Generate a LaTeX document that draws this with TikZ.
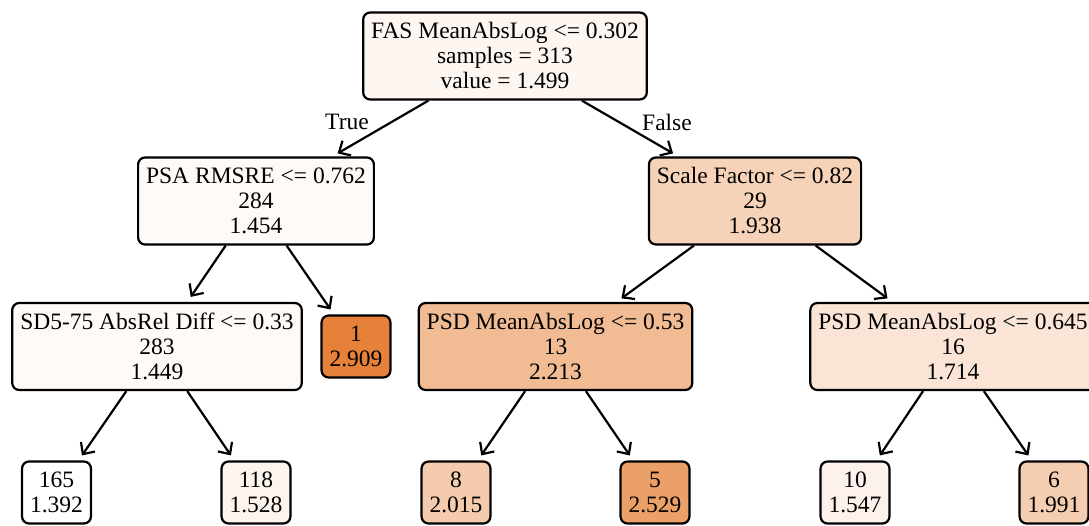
\documentclass[tikz,border=0pt]{standalone}
\usepackage{fontspec}
\setmainfont{Liberation Serif}
\usetikzlibrary{arrows.meta}
\definecolor{cA}{RGB}{253,246,241}
\definecolor{cB}{RGB}{254,250,247}
\definecolor{cC}{RGB}{246,210,184}
\definecolor{cD}{RGB}{254,250,248}
\definecolor{cE}{RGB}{229,129,57}
\definecolor{cF}{RGB}{241,187,148}
\definecolor{cG}{RGB}{249,228,213}
\definecolor{cH}{RGB}{255,255,255}
\definecolor{cI}{RGB}{253,244,237}
\definecolor{cJ}{RGB}{244,203,173}
\definecolor{cK}{RGB}{235,160,104}
\definecolor{cL}{RGB}{252,242,235}
\definecolor{cM}{RGB}{245,205,177}
\begin{document}
\begin{tikzpicture}[x=1pt,y=-1pt,
  tbox/.style={draw=black, line width=2.2pt, rounded corners=7pt, align=center,
    inner xsep=8pt, inner ysep=0pt, font=\fontsize{23.5}{25}\selectfont},
  bigbox/.style={tbox, minimum height=87pt},
  leafbox/.style={tbox, minimum height=62pt},
  conn/.style={line width=2.2pt, -{Straight Barb[length=9pt,width=17pt]}, shorten >=6pt},
  elabel/.style={font=\fontsize{23.5}{25}\selectfont, inner sep=0pt}]
\useasboundingbox (0,0) rectangle (1089,525);
\clip (0,0) rectangle (1089,525);

\node[bigbox, fill=cA] (root) at (505,56) {FAS MeanAbsLog <= 0.302\\samples = 313\\value = 1.499};
\node[bigbox, fill=cB] (psa) at (256,201) {PSA RMSRE <= 0.762\\284\\1.454};
\node[bigbox, fill=cC] (sf) at (755,201) {Scale Factor <= 0.82\\29\\1.938};
\node[bigbox, fill=cD] (sd) at (157,346.5) {SD5-75 AbsRel Diff <= 0.33\\283\\1.449};
\node[leafbox, fill=cE] (l1) at (356,346.5) {1\\2.909};
\node[bigbox, fill=cF] (psd13) at (555.5,346.5) {PSD MeanAbsLog <= 0.53\\13\\2.213};
\node[bigbox, fill=cG] (psd16) at (953,346.5) {PSD MeanAbsLog <= 0.645\\16\\1.714};
\node[leafbox, fill=cH] (l165) at (56.5,492.5) {165\\1.392};
\node[leafbox, fill=cI] (l118) at (256,492.5) {118\\1.528};
\node[leafbox, fill=cJ] (l8) at (456,492.5) {8\\2.015};
\node[leafbox, fill=cK] (l5) at (655,492.5) {5\\2.529};
\node[leafbox, fill=cL] (l10) at (855,492.5) {10\\1.547};
\node[leafbox, fill=cM] (l6) at (1054,492.5) {6\\1.991};

\draw[conn] (root) -- (psa);
\draw[conn] (root) -- (sf);
\draw[conn] (psa) -- (sd);
\draw[conn] (psa) -- (l1);
\draw[conn] (sf) -- (psd13);
\draw[conn] (sf) -- (psd16);
\draw[conn] (sd) -- (l165);
\draw[conn] (sd) -- (l118);
\draw[conn] (psd13) -- (l8);
\draw[conn] (psd13) -- (l5);
\draw[conn] (psd16) -- (l10);
\draw[conn] (psd16) -- (l6);

\node[elabel] (ltrue) at (347,122) {True};
\node[elabel] (lfalse) at (667,122) {False};
\end{tikzpicture}
\end{document}
